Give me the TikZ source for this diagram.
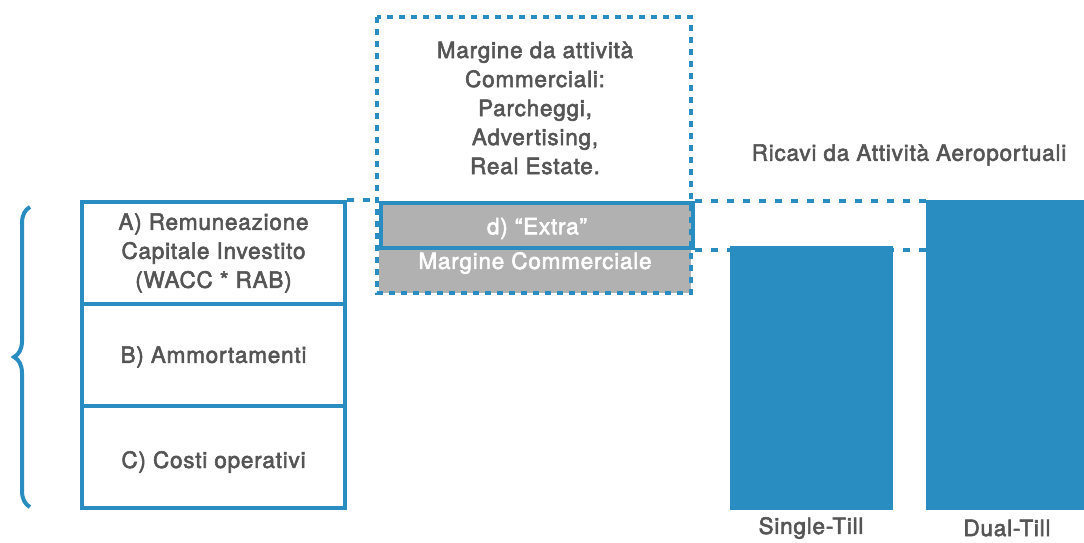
\documentclass[tikz,border=0pt]{standalone}
\usepackage{fontspec}
\newfontfamily\etich{TeX Gyre Heros}[UprightFeatures={FakeBold=2.5},LetterSpace=3.5]
\usetikzlibrary{decorations.pathreplacing}
\definecolor{blu}{HTML}{2A8DC2}
\definecolor{grigio}{HTML}{B1B1B1}
\definecolor{testo}{HTML}{555555}

\begin{document}
\begin{tikzpicture}[x=1pt,y=-1pt]
    \tikzstyle{scritta} = [text=testo, font=\etich\fontsize{22.5}{29}\selectfont, align=center, inner sep=0pt]
    \tikzstyle{cella} = [draw=blu, line width=4pt, minimum width=263pt, minimum height=102pt, inner sep=0pt, scritta]
    \tikzstyle{puntini} = [draw=blu, line width=4pt, dash pattern=on 6pt off 6pt]
    \tikzstyle{barra} = [fill=blu, inner sep=0pt, anchor=north west]
    \useasboundingbox (0,0) rectangle (1084,542);
    \node[cella] (remun) at (213.5,253) {A) Remuneazione\\Capitale Investito\\(WACC * RAB)};
    \node[cella] (ammort) at (213.5,355) {};
    \node[cella] (costi) at (213.5,457) {};
    \node[scritta] (ammorttxt) at ([yshift=-2pt]ammort.center) {B) Ammortamenti};
    \node[scritta] (costitxt) at ([yshift=-5pt]costi.center) {C) Costi operativi};
    \draw[blu, line width=4pt, decorate, decoration={brace, amplitude=16pt}] (30,507) -- (30,207);
    \fill[grigio] (379,201) rectangle (691,293);
    \node[draw=blu, line width=4pt, minimum width=312pt, minimum height=45pt, inner sep=0pt, anchor=north west] (extra) at (379,201) {};
    \node[scritta, text=white] (extratxt) at ([yshift=-3pt]extra.center) {d) “Extra”};
    \node[scritta, text=white] (margcomm) at (535,263) {Margine Commerciale};
    \draw[puntini] (377,17) rectangle (691,293);
    \node[scritta] (attivita) at (535,108) {Margine da attività\\Commerciali:\\Parcheggi,\\Advertising,\\Real Estate.};
    \node[barra, minimum width=163pt, minimum height=264pt] (single) at (730,246) {};
    \node[barra, minimum width=158pt, minimum height=310pt] (dual) at (926,200) {};
    \draw[puntini, dash pattern=on 7pt off 9pt] (remun.north east) -- (remun.north east -| extra.west);
    \draw[puntini, dash pattern=on 7pt off 9pt] (extra.north east) -- (extra.north east -| dual.west);
    \draw[puntini, dash pattern=on 7pt off 9pt] (extra.south east) -- (extra.south east -| dual.west);
    \node[scritta] (ricavi) at (909,155) {Ricavi da Attività Aeroportuali};
    \node[scritta] (lsingle) at (811,528) {Single-Till};
    \node[scritta] (ldual) at (1007,528) {Dual-Till};
\end{tikzpicture}
\end{document}
